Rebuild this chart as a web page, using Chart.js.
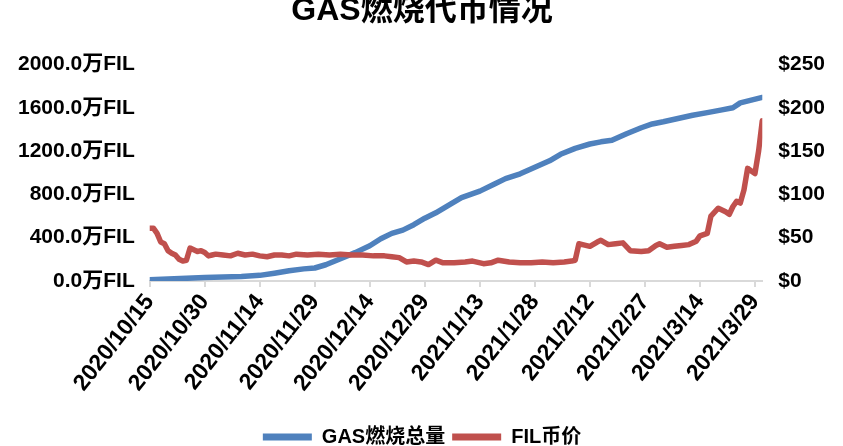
<!DOCTYPE html>
<html>
<head>
<meta charset="utf-8">
<script src="https://cdn.jsdelivr.net/npm/chart.js@4.4.1/dist/chart.umd.min.js"></script>
<style>
  html, body { margin: 0; padding: 0; background: #fff; overflow: hidden; }
  #wrap { width: 843px; height: 457px; }
</style>
</head>
<body>
<div id="wrap"><canvas id="chart" width="843" height="457"></canvas></div>
<script>
// GAS 燃烧总量 (万FIL)
const gasDates = [
  "2020/10/15", "2020/10/20", "2020/10/25", "2020/10/30", "2020/11/4", "2020/11/9",
  "2020/11/14", "2020/11/18", "2020/11/22", "2020/11/26", "2020/11/29", "2020/12/2",
  "2020/12/6", "2020/12/10", "2020/12/14", "2020/12/17", "2020/12/20", "2020/12/23",
  "2020/12/26", "2020/12/29", "2021/1/1", "2021/1/5", "2021/1/8", "2021/1/13",
  "2021/1/17", "2021/1/20", "2021/1/24", "2021/1/28", "2021/2/1", "2021/2/4",
  "2021/2/8", "2021/2/12", "2021/2/15", "2021/2/18", "2021/2/22", "2021/2/26",
  "2021/3/1", "2021/3/4", "2021/3/8", "2021/3/12", "2021/3/16", "2021/3/20",
  "2021/3/23", "2021/3/25", "2021/3/28", "2021/3/31"
];
const gasValues = [
  12, 18, 25, 32, 37, 42,
  52, 72, 95, 112, 120, 150,
  205, 262, 325, 390, 440, 470,
  520, 580, 630, 710, 770, 830,
  895, 945, 990, 1050, 1110, 1170,
  1225, 1265, 1285, 1300, 1360, 1415,
  1450, 1470, 1500, 1530, 1555, 1580,
  1600, 1645, 1670, 1695
];

// FIL 币价 ($)
const filDates = [
  "2020/10/15", "2020/10/16", "2020/10/17", "2020/10/18", "2020/10/19", "2020/10/20",
  "2020/10/21", "2020/10/22", "2020/10/23", "2020/10/24", "2020/10/25", "2020/10/26",
  "2020/10/27", "2020/10/28", "2020/10/29", "2020/10/30", "2020/10/31", "2020/11/1",
  "2020/11/2", "2020/11/4", "2020/11/6", "2020/11/8", "2020/11/10", "2020/11/12",
  "2020/11/14", "2020/11/16", "2020/11/18", "2020/11/20", "2020/11/22", "2020/11/24",
  "2020/11/27", "2020/11/30", "2020/12/3", "2020/12/6", "2020/12/9", "2020/12/12",
  "2020/12/15", "2020/12/18", "2020/12/20", "2020/12/22", "2020/12/24", "2020/12/26",
  "2020/12/28", "2020/12/30", "2021/1/1", "2021/1/3", "2021/1/6", "2021/1/9",
  "2021/1/11", "2021/1/14", "2021/1/16", "2021/1/18", "2021/1/21", "2021/1/24",
  "2021/1/27", "2021/1/30", "2021/2/2", "2021/2/5", "2021/2/7", "2021/2/8",
  "2021/2/9", "2021/2/10", "2021/2/12", "2021/2/14", "2021/2/15", "2021/2/17",
  "2021/2/19", "2021/2/21", "2021/2/23", "2021/2/26", "2021/2/28", "2021/3/2",
  "2021/3/3", "2021/3/5", "2021/3/7", "2021/3/9", "2021/3/11", "2021/3/13",
  "2021/3/14", "2021/3/16", "2021/3/17", "2021/3/19", "2021/3/21", "2021/3/22",
  "2021/3/23", "2021/3/24", "2021/3/25", "2021/3/26", "2021/3/27", "2021/3/28",
  "2021/3/29", "2021/3/30", "2021/3/31"
];
const filValues = [
  61, 61, 55, 45, 43, 35,
  32, 30, 25, 23, 24, 38,
  36, 34, 35, 33, 29, 30,
  31, 30, 29, 32, 30, 31,
  29, 28, 30, 30, 29, 31,
  30, 31, 30, 31, 30, 30,
  29, 29, 28, 27, 22, 23,
  22, 19, 24, 21, 21, 22,
  23, 20, 21, 24, 22, 21,
  21, 22, 21, 22, 23, 24,
  43, 42, 40, 45, 47, 42,
  43, 44, 35, 34, 35, 41,
  43, 39, 40, 41, 42, 46,
  52, 55, 75, 84, 80, 77,
  86, 92, 90, 105, 130, 127,
  124, 150, 185
];

const startDate = "2020/10/15";
const endDate = "2021/3/31";
const leftTicks = [0, 400, 800, 1200, 1600, 2000];
const rightTicks = [0, 50, 100, 150, 200, 250];

const DAY = 86400000;
function toUTC(s) {
  const p = s.split("/").map(Number);
  return Date.UTC(p[0], p[1] - 1, p[2]);
}
const t0 = toUTC(startDate);
const dayOf = s => Math.round((toUTC(s) - t0) / DAY);
function dayLabel(d) {
  const dt = new Date(t0 + d * DAY);
  return dt.getUTCFullYear() + "/" + (dt.getUTCMonth() + 1) + "/" + dt.getUTCDate();
}

const FONT = '"Liberation Sans", Arial, "Noto Sans CJK SC", sans-serif';
const BLUE = "#4F81BD";
const RED = "#C0504D";

new Chart(document.getElementById("chart"), {
  type: "line",
  data: {
    datasets: [
      {
        label: "GAS燃烧总量",
        data: gasDates.map((d, i) => ({ x: dayOf(d), y: gasValues[i] })),
        borderColor: BLUE,
        backgroundColor: BLUE,
        borderWidth: 5.5,
        pointRadius: 0,
        tension: 0,
        borderJoinStyle: "round",
        borderCapStyle: "round",
        yAxisID: "y",
        order: 2,
      },
      {
        label: "FIL币价",
        data: filDates.map((d, i) => ({ x: dayOf(d), y: filValues[i] })),
        borderColor: RED,
        backgroundColor: RED,
        borderWidth: 5.5,
        pointRadius: 0,
        tension: 0,
        borderJoinStyle: "round",
        borderCapStyle: "round",
        yAxisID: "y1",
        order: 1,
      },
    ],
  },
  options: {
    responsive: false,
    animation: false,
    layout: { padding: { left: 3, right: 2, top: 0, bottom: 0 } },
    plugins: {
      title: {
        display: true,
        text: "GAS燃烧代币情况",
        color: "#000",
        font: { family: FONT, size: 32, weight: "bold" },
        padding: { top: -8, bottom: 34 },
      },
      legend: {
        position: "bottom",
        labels: {
          color: "#000",
          font: { family: FONT, size: 20, weight: "bold" },
          boxWidth: 49,
          boxHeight: 7,
          padding: 7,
          generateLabels: chart =>
            chart.data.datasets.map((ds, i) => ({
              text: ds.label,
              fillStyle: ds.borderColor,
              strokeStyle: ds.borderColor,
              lineWidth: 0,
              hidden: false,
              datasetIndex: i,
              fontColor: "#000",
            })),
        },
      },
      tooltip: { enabled: false },
    },
    scales: {
      x: {
        type: "linear",
        min: 0,
        max: dayOf(endDate),
        afterFit: axis => { axis.height = 139; },
        ticks: {
          stepSize: 15,
          includeBounds: false,
          autoSkip: false,
          maxRotation: 52,
          minRotation: 52,
          color: "#000",
          font: { family: FONT, size: 23, weight: "bold" },
          padding: 2,
          callback: v => dayLabel(v),
        },
        grid: {
          drawOnChartArea: false,
          drawTicks: true,
          tickLength: 6,
          color: "#D9D9D9",
          lineWidth: 2,
        },
        border: { color: "#D9D9D9", width: 2 },
      },
      y: {
        position: "left",
        min: 0,
        max: 2000,
        afterBuildTicks: axis => { axis.ticks = leftTicks.map(v => ({ value: v })); },
        ticks: {
          color: "#000",
          font: { family: FONT, size: 21, weight: "bold" },
          padding: 15,
          callback: v => v.toFixed(1) + "万FIL",
        },
        grid: { display: false, drawTicks: false },
        border: { display: false },
      },
      y1: {
        position: "right",
        min: 0,
        max: 250,
        afterBuildTicks: axis => { axis.ticks = rightTicks.map(v => ({ value: v })); },
        ticks: {
          color: "#000",
          font: { family: FONT, size: 21, weight: "bold" },
          padding: 16,
          callback: v => "$" + v,
        },
        grid: { display: false, drawTicks: false },
        border: { display: false },
      },
    },
  },
});
</script>
</body>
</html>
